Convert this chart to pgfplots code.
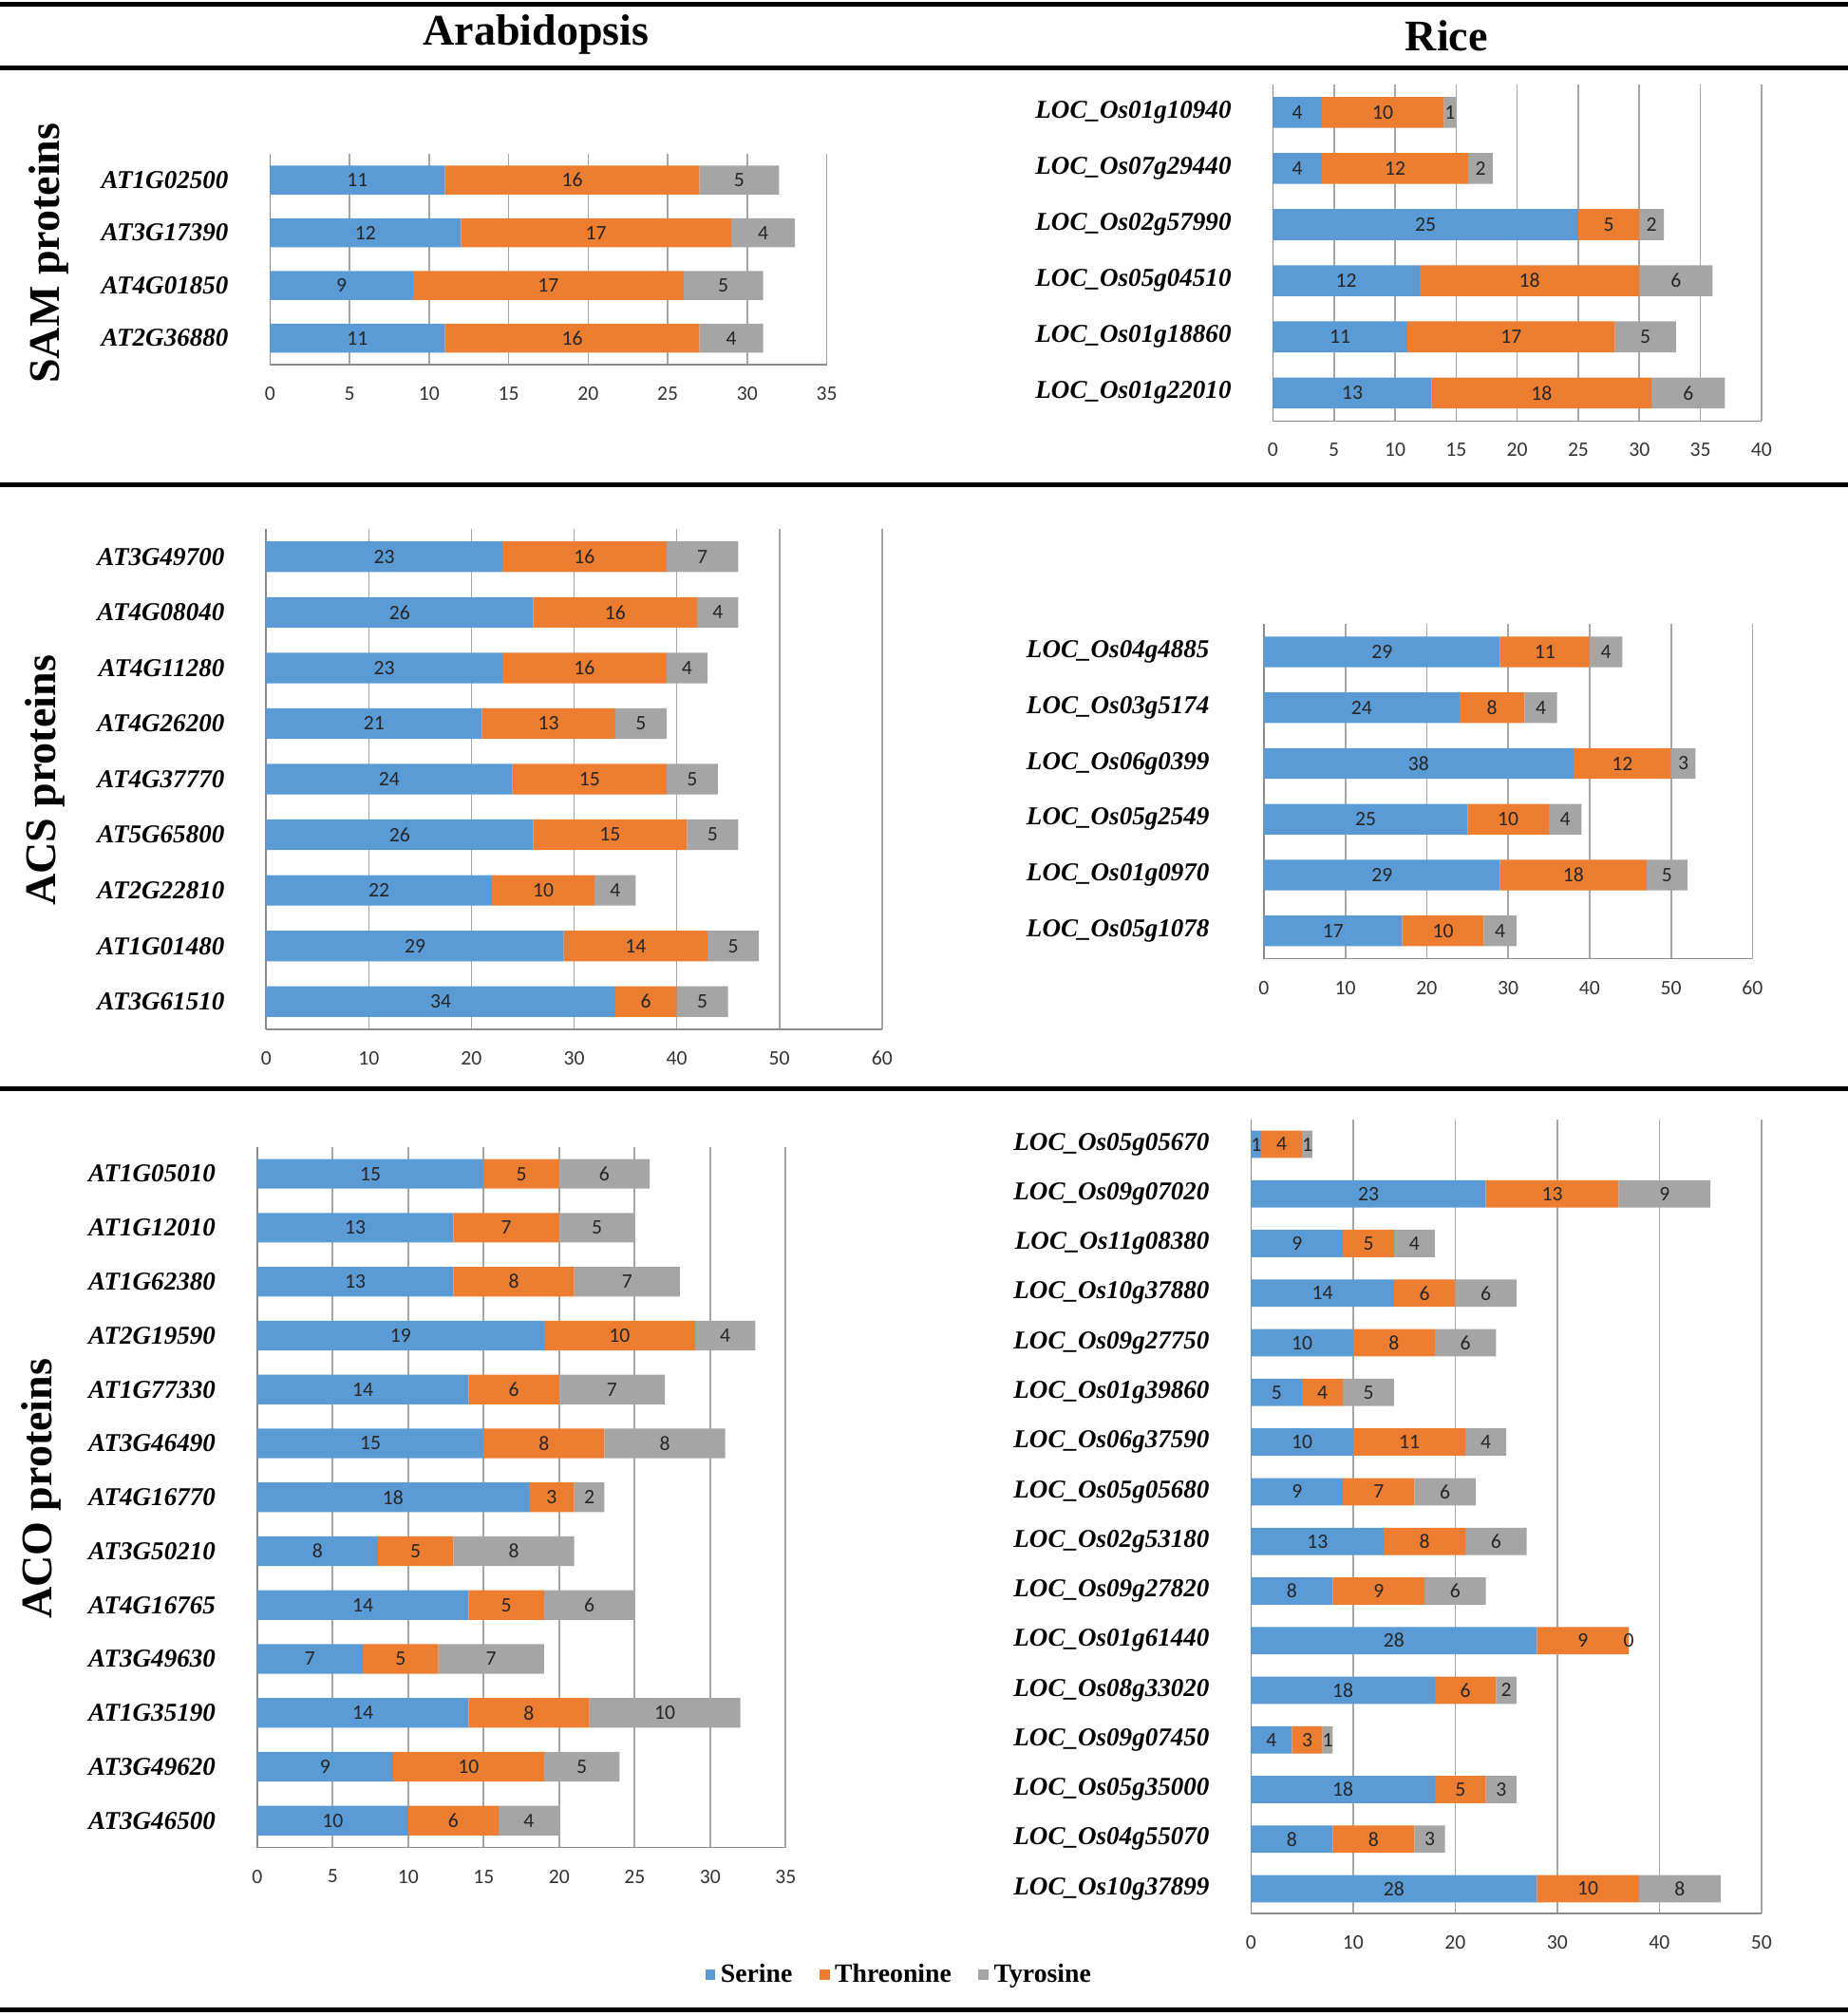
\documentclass[border=0pt]{standalone}
\usepackage{pgfplots}
\pgfplotsset{compat=1.18}
\usepackage{pgfplotstable}
\usepackage{fontspec}
\setmainfont{Liberation Serif}
\newfontfamily\calfont{Carlito}
\definecolor{cSer}{HTML}{5B9BD5}
\definecolor{cThr}{HTML}{ED7D31}
\definecolor{cTyr}{HTML}{A5A5A5}
\definecolor{gridc}{HTML}{A6A6A6}
\definecolor{axc}{HTML}{8C8C8C}
\definecolor{lblc}{HTML}{262626}

% idx: top row has highest index
\pgfplotstableread{
idx ser thr tyr
3 11 16 5
2 12 17 4
1 9 17 5
0 11 16 4
}\samA
\pgfplotstableread{
idx ser thr tyr
5 4 10 1
4 4 12 2
3 25 5 2
2 12 18 6
1 11 17 5
0 13 18 6
}\samR
\pgfplotstableread{
idx ser thr tyr
8 23 16 7
7 26 16 4
6 23 16 4
5 21 13 5
4 24 15 5
3 26 15 5
2 22 10 4
1 29 14 5
0 34 6 5
}\acsA
\pgfplotstableread{
idx ser thr tyr
5 29 11 4
4 24 8 4
3 38 12 3
2 25 10 4
1 29 18 5
0 17 10 4
}\acsR
\pgfplotstableread{
idx ser thr tyr
12 15 5 6
11 13 7 5
10 13 8 7
9 19 10 4
8 14 6 7
7 15 8 8
6 18 3 2
5 8 5 8
4 14 5 6
3 7 5 7
2 14 8 10
1 9 10 5
0 10 6 4
}\acoA
\pgfplotstableread{
idx ser thr tyr
15 1 4 1
14 23 13 9
13 9 5 4
12 14 6 6
11 10 8 6
10 5 4 5
9 10 11 4
8 9 7 6
7 13 8 6
6 8 9 6
5 28 9 0
4 18 6 2
3 4 3 1
2 18 5 3
1 8 8 3
0 28 10 8
}\acoR

\pgfplotsset{
  panel/.style={
    scale only axis, xbar stacked, bar width=0.55, xmin=0,
    stacked ignores zero=false,
    enlargelimits=false, clip=false,
    axis x line*=bottom, axis y line*=left,
    axis line style={draw=axc, line width=0.6pt, -},
    xmajorgrids, grid style={draw=gridc, line width=0.6pt},
    major tick length=0pt,
    /pgf/number format/assume math mode=true,
    xticklabel style={font=\fontsize{8}{9}\selectfont\calfont, text=black!80, anchor=center, inner sep=0pt, yshift=-11.25pt},
    yticklabel style={font=\fontsize{10}{12}\selectfont\bfseries\itshape, anchor=east, inner sep=0pt, xshift=-16pt},
    point meta=explicit symbolic,
    nodes near coords={\pgfplotspointmeta},
    every node near coord/.append style={font=\fontsize{8}{9}\selectfont\calfont, text=lblc, anchor=center, inner sep=0pt},
  },
  serS/.style={fill=cSer, draw=none},
  thrS/.style={fill=cThr, draw=none},
  tyrS/.style={fill=cTyr, draw=none},
}

\newcommand\threeplots[1]{%
  \addplot[serS] table[x=ser,y=idx,meta=ser]{#1};
  \addplot[thrS] table[x=thr,y=idx,meta=thr]{#1};
  \addplot[tyrS] table[x=tyr,y=idx,meta=tyr]{#1};
}

\begin{document}
\begin{tikzpicture}
\path[use as bounding box] (0pt,0pt) rectangle (718.5pt,-784pt);

% rules
\foreach \yy in {1.75,26.3,188.5,423.5,781.5}
  \draw[line width=1.8pt] (0pt,-\yy pt) -- (718.5pt,-\yy pt);

% headers
\node[font=\fontsize{17}{20}\selectfont\bfseries] at (208.5pt,-13.5pt) {Arabidopsis};
\node[font=\fontsize{17}{20}\selectfont\bfseries] at (562.5pt,-14pt) {Rice};
\node[rotate=90,font=\fontsize{17}{20}\selectfont\bfseries] at (19pt,-98.5pt) {SAM proteins};
\node[rotate=90,font=\fontsize{17}{20}\selectfont\bfseries] at (17.5pt,-303.5pt) {ACS proteins};
\node[rotate=90,font=\fontsize{17}{20}\selectfont\bfseries] at (16pt,-579pt) {ACO proteins};

% SAM Arabidopsis
\begin{axis}[panel, at={(105pt,-141.75pt)}, anchor=south west, width=216.5pt, height=82pt,
  xmax=35, xtick={0,5,...,35}, ymin=-0.5, ymax=3.5, ytick={0,...,3},
  yticklabels={AT2G36880,AT4G01850,AT3G17390,AT1G02500}]
\threeplots{\samA}
\end{axis}

% SAM Rice
\begin{axis}[panel, at={(495pt,-163.75pt)}, anchor=south west, width=190pt, height=131pt,
  xmax=40, xtick={0,5,...,40}, ymin=-0.5, ymax=5.5, ytick={0,...,5},
  yticklabels={LOC\_Os01g22010,LOC\_Os01g18860,LOC\_Os05g04510,LOC\_Os02g57990,LOC\_Os07g29440,LOC\_Os01g10940}]
\threeplots{\samR}
\end{axis}

% ACS Arabidopsis
\begin{axis}[panel, at={(103.5pt,-400.3pt)}, anchor=south west, width=239.5pt, height=194.6pt,
  xmax=60, xtick={0,10,...,60}, ymin=-0.5, ymax=8.5, ytick={0,...,8},
  yticklabels={AT3G61510,AT1G01480,AT2G22810,AT5G65800,AT4G37770,AT4G26200,AT4G11280,AT4G08040,AT3G49700}]
\threeplots{\acsA}
\end{axis}

% ACS Rice
\begin{axis}[panel, at={(491.5pt,-372.85pt)}, anchor=south west, width=190pt, height=130.2pt,
  xmax=60, xtick={0,10,...,60}, ymin=-0.5, ymax=5.5, ytick={0,...,5},
  yticklabel style={xshift=-5pt},
  yticklabels={LOC\_Os05g1078,LOC\_Os01g0970,LOC\_Os05g2549,LOC\_Os06g0399,LOC\_Os03g5174,LOC\_Os04g4885}]
\threeplots{\acsR}
\end{axis}

% ACO Arabidopsis
\begin{axis}[panel, at={(100pt,-718.5pt)}, anchor=south west, width=205.5pt, height=272.5pt,
  xmax=35, xtick={0,5,...,35}, ymin=-0.5, ymax=12.5, ytick={0,...,12},
  yticklabels={AT3G46500,AT3G49620,AT1G35190,AT3G49630,AT4G16765,AT3G50210,AT4G16770,AT3G46490,AT1G77330,AT2G19590,AT1G62380,AT1G12010,AT1G05010}]
\threeplots{\acoA}
\end{axis}

% ACO Rice
\begin{axis}[panel, at={(486.5pt,-744.15pt)}, anchor=south west, width=198.5pt, height=308.8pt,
  xmax=50, xtick={0,10,...,50}, ymin=-0.5, ymax=15.5, ytick={0,...,15},
  yticklabels={LOC\_Os10g37899,LOC\_Os04g55070,LOC\_Os05g35000,LOC\_Os09g07450,LOC\_Os08g33020,LOC\_Os01g61440,LOC\_Os09g27820,LOC\_Os02g53180,LOC\_Os05g05680,LOC\_Os06g37590,LOC\_Os01g39860,LOC\_Os09g27750,LOC\_Os10g37880,LOC\_Os11g08380,LOC\_Os09g07020,LOC\_Os05g05670},
  legend image code/.code={\fill[#1] (0pt,-2pt) rectangle (4pt,2pt);},
  legend cell align=left,
  legend style={at={(-0.6864,-0.0772)}, anchor=center, draw=none, fill=none, legend columns=3,
    font=\fontsize{10.25}{12}\selectfont\bfseries,
    /tikz/every even column/.append style={column sep=8.5pt}}]
\threeplots{\acoR}
\addlegendentry{Serine}
\addlegendentry{Threonine}
\addlegendentry{Tyrosine}
\end{axis}
\end{tikzpicture}
\end{document}
